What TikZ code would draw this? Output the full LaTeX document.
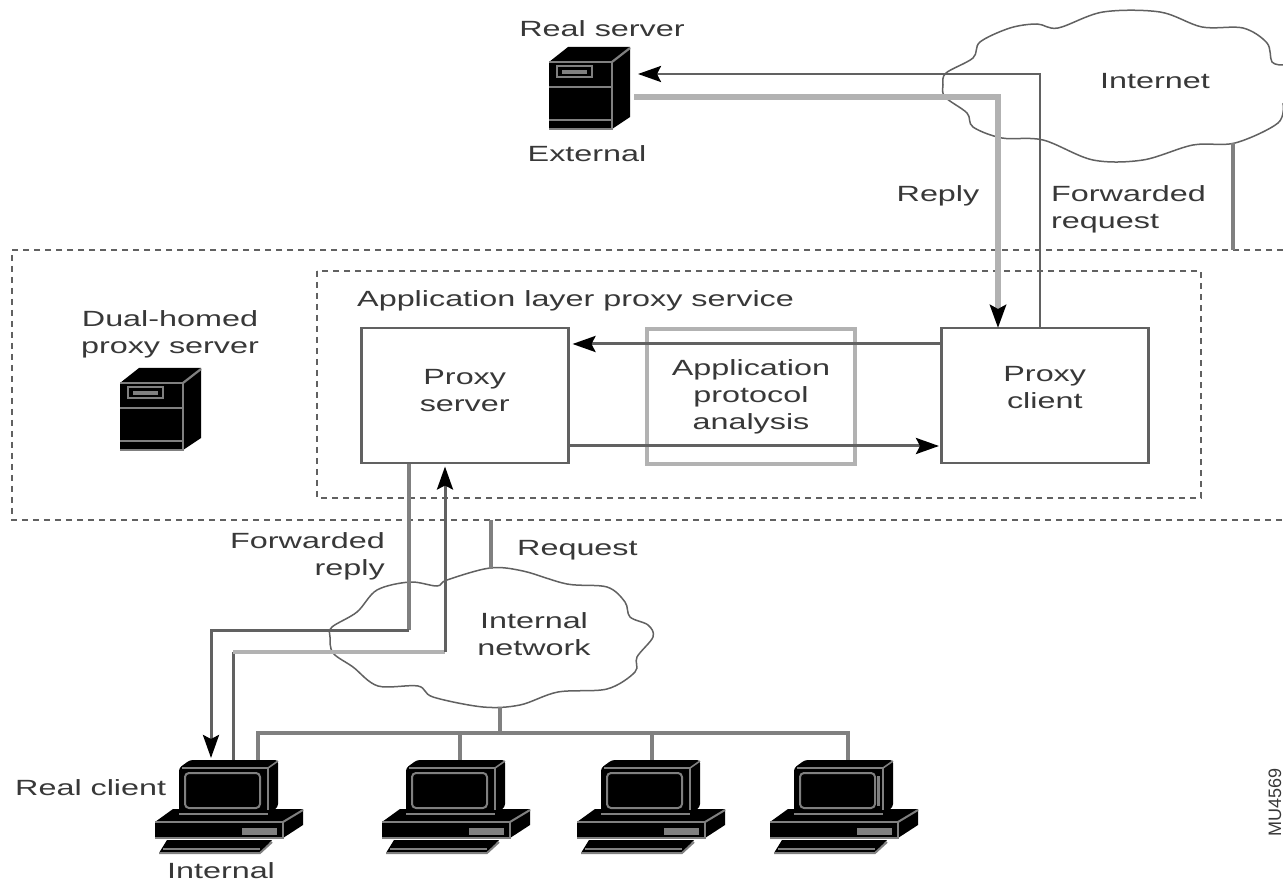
\documentclass[tikz,border=0pt]{standalone}
\usepackage{fontspec}
\setmainfont[FakeStretch=1.47]{Liberation Sans}
\newfontfamily\plainf{Liberation Sans}
\usetikzlibrary{arrows.meta,calc}
\definecolor{ln}{gray}{0.38}
\definecolor{lg}{gray}{0.70}
\definecolor{ic}{gray}{0.50}
\definecolor{tx}{gray}{0.22}
\tikzset{
  lbl/.style={font=\fontsize{22}{27}\selectfont,text=tx,inner sep=0pt,align=center},
  lbll/.style={lbl,align=left},
  lblr/.style={lbl,align=right},
  boxn/.style={draw=ln,line width=2.5pt,minimum width=207pt,minimum height=135pt,inner sep=0pt,lbl,anchor=north west},
  boxa/.style={boxn,draw=lg,line width=4pt,minimum width=208pt},
  dashbox/.style={draw=ln,line width=1.6pt,dash pattern=on 6pt off 5pt},
  thin line/.style={draw=ln,line width=3pt},
  thick line/.style={draw=lg,line width=5.5pt},
  mid line/.style={draw=ic,line width=3.2pt},
  arr/.style={-{Stealth[length=23pt,width=16pt,inset=4pt,fill=black,color=black]}},
  cloudline/.style={draw=ln,line width=1.5pt},
  server/.pic={
    \fill[black] (0,15) -- (19,0) -- (81,0) -- (81,70) -- (63,82) -- (0,82) -- cycle;
    \draw[ic,line width=2.2pt] (0,15) -- (63,15) -- (63,82) -- (0,82);
    \draw[ic,line width=2.2pt] (63,15) -- (81,1);
    \draw[ic,line width=2pt] (0,40) -- (63,40) (0,73) -- (63,73);
    \draw[ic,line width=2pt] (8,19) rectangle (43,30);
    \fill[ic] (13,23) rectangle (38,27);
    \coordinate (-in) at (89,27);
    \coordinate (-out) at (85,50);
  },
  pc/.pic={
    % foot
    \fill[black] (12,80) -- (117,80) -- (105,93) -- (4,93) -- cycle;
    \draw[ic,line width=2pt] (4,93) -- (105,93) -- (117,82);
    \draw[ic,line width=1.6pt] (8,89) -- (105,89);
    % base
    \fill[black] (0,62) -- (18,49) -- (148,49) -- (148,65) -- (128,78) -- (0,78) -- cycle;
    \draw[ic,line width=2pt] (0,62) -- (128,62) -- (128,78) -- (0,78);
    \draw[ic,line width=2pt] (128,62) -- (148,50);
    \fill[ic] (87,68) rectangle (122,75);
    % monitor
    \fill[black,rounded corners=3pt] (24,54) -- (24,8) -- (35,0) -- (123,0) -- (123,47) -- (113,54) -- cycle;
    \draw[ic,line width=2pt] (24,54) -- (113,54) (27,8) -- (113,8) -- (113,50);
    \draw[ic,line width=1.6pt] (113,8) -- (123,1);
    \draw[ic,line width=2pt,rounded corners=4pt] (30,13) rectangle (105,48);
    \coordinate (-t) at (0,0);
  }
}
\begin{document}
\begin{tikzpicture}[x=1pt,y=-1pt]
\useasboundingbox (0,0) rectangle (1283,882);
\fill[white] (0,0) rectangle (1283,882);

% named anchors
\coordinate (cloudNetB) at (1233,143);
\coordinate (cloudLanT) at (491,569);
\coordinate (cloudLanB) at (500,707);
\coordinate (outerTR) at (1283,250);
\coordinate (outerTL) at (12,250);
\coordinate (outerBL) at (12,520);
\coordinate (outerBR) at (1283,520);
\coordinate (innerTL) at (317,271);
\coordinate (innerBR) at (1201,498);
\coordinate (busR) at (848,733);
\coordinate (busM) at (500,733);
\coordinate (replyC) at (409,630);
\coordinate (reqC) at (445,652);

% clouds
\draw[cloudline] plot[smooth,tension=0.55] coordinates {(1283,65) (1272,62) (1267,43) (1243,28) (1202,27) (1160,12) (1103,12) (1058,28) (1037,24) (1010,28) (980,42) (973,58) (946,73) (943,85) (945,97) (967,113) (973,127) (1002,138) (1043,140) (1093,160) (1143,160) (1193,145) (1235,143) (1278,123) (1283,103)};
\draw[cloudline] plot[smooth cycle,tension=0.55] coordinates {(332,627) (357,612) (377,590) (410,582) (437,586) (447,580) (490,568) (523,571) (567,584) (607,587) (625,602) (630,617) (648,625) (653,637) (637,657) (635,672) (607,689) (558,692) (520,705) (483,707) (433,697) (418,686) (378,686) (353,667) (333,653) (330,637)};

% dashed zones
\draw[dashbox] (outerTR) -- (outerTL) -- (outerBL) -- (outerBR);
\draw[dashbox] (innerTL) rectangle (innerBR);

% boxes
\node[boxn] (pserver) at (360,327) {Proxy\\server\\[-17pt]};
\node[boxa] (analysis) at (645,327) {Application\\protocol\\analysis};
\node[boxn] (pclient) at (940,327) {Proxy\\client\\[-11pt]};

% icons
\pic (realsrv) at (549,47) {server};
\pic (dualsrv) at (120,368) {server};
\pic (pcA) at (155,760) {pc};
\pic (pcB) at (382,760) {pc};
\pic (pcC) at (577,760) {pc};
\pic (pcD) at (770,760) {pc};
\draw[ic,line width=3pt] ($(pcD-t)+(108,16)$) -- ($(pcD-t)+(108,46)$);

% connectors
\draw[thin line,line width=2.6pt,arr] ([xshift=100pt]pclient.north west) |- (realsrv-in);
\draw[thick line,arr] (realsrv-out) -| ([xshift=58pt,yshift=-1pt]pclient.north west);
\draw[thin line,arr] ([yshift=-17pt]pclient.north west) -- ([yshift=-17pt,xshift=3pt]pserver.north east);
\draw[thin line,arr] ([yshift=-119pt]pserver.north east) -- ([yshift=-119pt,xshift=-1pt]pclient.north west);
\draw[mid line] (cloudNetB) -- (cloudNetB |- outerTR);
% forwarded reply: server to real client
\draw[mid line] ([xshift=49pt]pserver.south west) -- (replyC);
\draw[thin line,arr] (replyC) -| ($(pcA-t)+(56,-2)$);
% request: real client to server
\draw[thin line] ($(pcA-t)+(78,0)$) -- ($(pcA-t)+(78,-108)$);
\draw[draw=lg,line width=4.5pt] ($(pcA-t)+(78,-108)$) -- (reqC);
\draw[thin line,arr] (reqC) -- ([xshift=85pt,yshift=-2pt]pserver.south west);
\draw[mid line] (cloudLanT) -- (cloudLanT |- outerBL);
\draw[mid line] (cloudLanB) -- (busM);
\draw[mid line] ($(pcA-t)+(103,0)$) |- (busR) -- ($(pcD-t)+(78,0)$);
\draw[mid line] (busM -| {$(pcB-t)+(78,0)$}) -- ($(pcB-t)+(78,0)$);
\draw[mid line] (busM -| {$(pcC-t)+(75,0)$}) -- ($(pcC-t)+(75,0)$);

% labels
\node[lbl] (tReal) at (602,29) {Real server};
\node[lbl] (tExt) at (587,154) {External};
\node[lbl] (tNet) at (1155,81) {Internet};
\node[lbl] (tReply) at (938,196) {Reply};
\node[lbll,anchor=west] (tFreq) at (1051,209.5) {Forwarded\\request};
\node[lbll,anchor=west] (tApp) at (357,301) {Application layer proxy service};
\node[lbl] (tDual) at (170,334) {Dual-homed\\proxy server};
\node[lblr,anchor=east] (tFrep) at (385,556.5) {Forwarded\\reply};
\node[lbll,anchor=west] (tReq) at (517,550) {Request};
\node[lbl] (tLan) at (534,634) {Internal\\network};
\node[lbll,anchor=west] (tCli) at (15,788) {Real client};
\node[lbl] (tInt) at (221,871) {Internal};
\node[lbl,font=\plainf\fontsize{18}{18}\selectfont,rotate=90] (tCode) at (1275,802) {MU4569};
\end{tikzpicture}
\end{document}
